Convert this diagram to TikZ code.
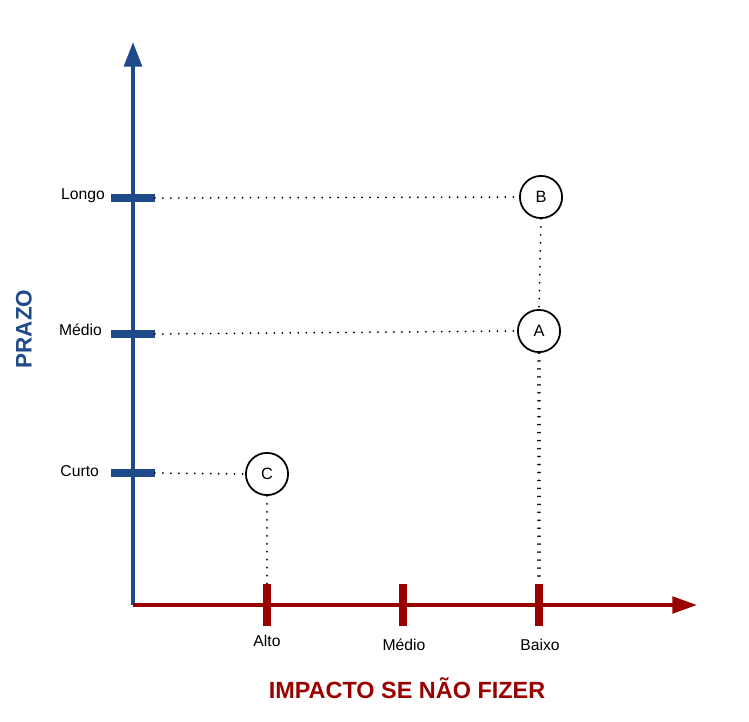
\documentclass[tikz,border=0pt]{standalone}
\usepackage{fontspec}
\setmainfont{Liberation Sans}
\usetikzlibrary{arrows.meta}
\definecolor{azul}{HTML}{1F4A8A}
\definecolor{vinho}{HTML}{990000}

\begin{document}
\begin{tikzpicture}[x=0.03cm, y=-0.03cm]
  \tikzset{
    eixoy/.style={draw=azul,line width=3.4pt,-{Triangle[length=21pt,width=15pt]}},
    eixox/.style={draw=vinho,line width=3.2pt,-{Triangle[length=21pt,width=14pt]}},
    marcay/.style={rectangle,fill=azul,minimum width=37pt,minimum height=6.5pt,inner sep=0pt},
    marcax/.style={rectangle,fill=vinho,minimum width=6pt,minimum height=36pt,inner sep=0pt},
    caso/.style={circle,draw=black,fill=white,minimum size=36pt,inner sep=0pt,line width=1.5pt,font=\fontsize{14}{16}\selectfont},
    guia/.style={draw=black,line width=1.7pt,dash pattern=on 0pt off 6.8pt,line cap=round},
    rotulo/.style={font=\fontsize{13.4}{15}\selectfont}
  }
  \useasboundingbox (0,0) rectangle (749,722);
  \coordinate (o) at (133,605);
  \coordinate (topo) at (133,42);
  \coordinate (fim) at (697,605);
  \draw[eixoy] (o) -- (topo);
  \draw[eixox] (o) -- (fim);
  % marcas do prazo
  \node[marcay] (tL) at (133,198) {};
  \node[marcay] (tM) at (133,334) {};
  \node[marcay] (tC) at (133,473) {};
  \node[rotulo,anchor=east] at (109,196) {Longo};
  \node[rotulo,anchor=east] at (106,330) {Médio};
  \node[rotulo,anchor=east] at (103,471) {Curto};
  % marcas do impacto
  \node[marcax] (xA) at (267,605) {};
  \node[marcax] (xM) at (403,605) {};
  \node[marcax] (xB) at (539,605) {};
  \node[rotulo] at (267,641) {Alto};
  \node[rotulo] at (404,645) {Médio};
  \node[rotulo] at (540,645) {Baixo};
  % casos
  \node[caso] (B) at (541,197) {B};
  \node[caso] (A) at (539,331) {A};
  \node[caso] (C) at (267,474) {C};
  \draw[guia] (tL.east) -- (B.west);
  \draw[guia] (tM.east) -- (A.west);
  \draw[guia] (tC.east) -- (C.west);
  \draw[guia] (B.south) -- (A.north);
  \draw[guia] ([xshift=-0.8pt]A.south) -- ([xshift=-0.8pt]xB.north);
  \draw[guia] ([xshift=0.8pt]A.south) -- ([xshift=0.8pt]xB.north);
  \draw[guia] (C.south) -- (xA.north);
  % titulos
  \node[font=\bfseries\fontsize{20}{24}\selectfont,text=vinho] at (407,688) {IMPACTO SE NÃO FIZER};
  \node[font=\bfseries\fontsize{19.2}{23}\selectfont,text=azul,rotate=90] at (24,329) {PRAZO};
\end{tikzpicture}
\end{document}
